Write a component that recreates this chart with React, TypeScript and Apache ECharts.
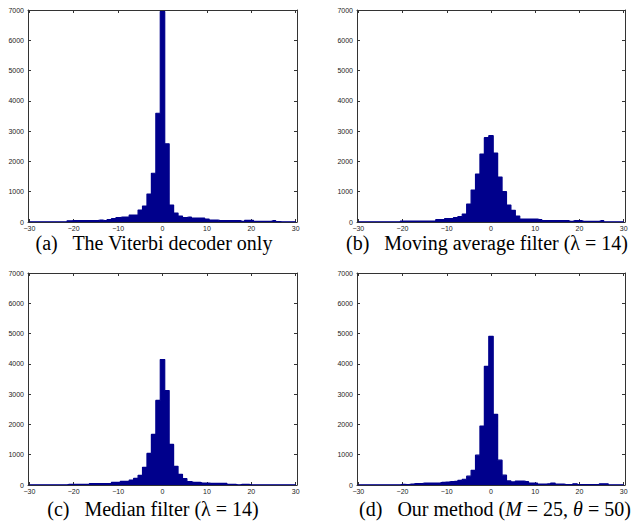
import React, { useEffect, useRef } from "react";
import * as echarts from "echarts";

const binCenters = [
  -30, -29, -28, -27, -26, -25, -24, -23, -22, -21, -20, -19, -18, -17, -16, -15,
  -14, -13, -12, -11, -10, -9, -8, -7, -6, -5, -4, -3, -2, -1, 0, 1, 2, 3, 4, 5,
  6, 7, 8, 9, 10, 11, 12, 13, 14, 15, 16, 17, 18, 19, 20, 21, 22, 23, 24, 25, 26,
  27, 28, 29, 30,
];

const viterbiCounts = [
  8, 8, 8, 8, 8, 8, 8, 8, 8, 40, 44, 44, 44, 44, 44, 44,
  66, 44, 77, 110, 143, 165, 165, 231, 231, 396, 528, 924, 1610, 3590,
  6950,
  2580, 561, 297, 198, 143, 165, 132, 132, 132, 99,
  66, 66, 44, 44, 44, 44, 44, 22, 55, 55,
  22, 22, 22, 22, 44, 10, 8, 8, 8, 8,
];

const movingAvgCounts = [
  8, 8, 8, 8, 8, 8, 8, 8, 8, 8, 33, 33, 33, 33, 33, 33, 33, 33,
  77, 77, 110, 110, 143, 176, 264, 594, 1057, 1585, 2246, 2785,
  2850,
  2279, 1486, 1002, 561, 385, 198, 99, 99, 99, 99,
  77, 44, 44, 44, 44, 44, 44, 22, 44, 44,
  22, 22, 22, 22, 44, 8, 8, 8, 8, 8,
];

const medianCounts = [
  8, 8, 8, 8, 8, 8, 8, 8, 8, 20, 20, 20, 20, 20, 44, 44, 44, 44, 44,
  88, 88, 121, 121, 165, 220, 319, 582, 1044, 1670, 2791,
  4143,
  3121, 1341, 616, 352, 209, 110, 88, 88, 66, 66,
  55, 55, 55, 55, 22, 22, 8, 22, 22, 8,
  8, 8, 8, 8, 8, 8, 8, 8, 8, 8,
];

const oursCounts = [
  8, 8, 8, 8, 8, 8, 8, 8, 8, 8,
  20, 15, 30, 45, 45, 66, 66, 66, 66, 88, 99, 110, 120, 150, 190, 290, 485, 985, 1945, 3920,
  4910,
  2335, 820, 325, 135, 100, 132, 132, 110, 66, 66,
  33, 33, 40, 66, 30, 30, 15, 15, 40, 15,
  15, 15, 15, 15, 40, 40, 8, 8, 8, 8,
];

const xTickValues = [-30, -20, -10, 0, 10, 20, 30];

const GAP = "\u2002 ";
const panels = [
  { counts: viterbiCounts, caption: "(a)" + GAP + "The Viterbi decoder only" },
  { counts: movingAvgCounts, caption: "(b)" + GAP + "Moving average filter (λ = 14)" },
  { counts: medianCounts, caption: "(c)" + GAP + "Median filter (λ = 14)" },
  { counts: oursCounts, caption: "(d)" + GAP + "Our method ({i|M} = 25, {i|θ} = 50)" },
];

const gridBoxes = [
  { left: 28, top: 10, width: 269, height: 212 },
  { left: 357, top: 10, width: 268, height: 212 },
  { left: 28, top: 273, width: 269, height: 212 },
  { left: 357, top: 273, width: 268, height: 212 },
];

const captionPos = [
  { x: 154, y: 243 },
  { x: 487, y: 243 },
  { x: 153, y: 509 },
  { x: 495, y: 509 },
];

const BAR = "#00008C";
const AXIS = "#333333";

export default function App() {
  const ref = useRef<HTMLDivElement>(null);
  useEffect(() => {
    if (!ref.current) return;
    const chart = echarts.init(ref.current, null, { renderer: "svg" });
    const fmt = (v: number) => (v < 0 ? "\u2212" + Math.abs(v) : String(v));
    const xAxis: any[] = [];
    const yAxis: any[] = [];
    const series: any[] = [];
    panels.forEach((p, i) => {
      const base = {
        type: "value",
        gridIndex: i,
        min: -30.3,
        max: 30.3,
        splitLine: { show: false },
        axisLine: { show: true, onZero: false, lineStyle: { color: AXIS, width: 1 } },
      };
      xAxis.push({
        ...base,
        position: "bottom",
        axisTick: { show: true, inside: true, length: 3, customValues: xTickValues, lineStyle: { color: AXIS } },
        axisLabel: {
          show: true,
          customValues: xTickValues,
          fontSize: 7,
          color: "#222",
          margin: 3,
          fontFamily: "Arial, 'Liberation Sans', sans-serif",
          formatter: fmt,
        },
      });
      xAxis.push({
        ...base,
        position: "top",
        axisTick: { show: true, inside: true, length: 3, customValues: xTickValues, lineStyle: { color: AXIS } },
        axisLabel: { show: false },
      });
      const ybase = {
        type: "value",
        gridIndex: i,
        min: 0,
        max: 7000,
        interval: 1000,
        splitLine: { show: false },
        axisLine: { show: true, onZero: false, lineStyle: { color: AXIS, width: 1 } },
        axisTick: { show: true, inside: true, length: 3, lineStyle: { color: AXIS } },
      };
      yAxis.push({
        ...ybase,
        position: "left",
        axisLabel: {
          show: true,
          fontSize: 7,
          color: "#222",
          margin: 4,
          fontFamily: "Arial, 'Liberation Sans', sans-serif",
          formatter: (v: number) => String(v),
        },
      });
      yAxis.push({ ...ybase, position: "right", axisLabel: { show: false } });
      series.push({
        type: "line",
        xAxisIndex: 2 * i,
        yAxisIndex: 2 * i,
        step: "middle",
        symbol: "none",
        clip: true,
        z: 3,
        data: binCenters.map((c, j) => [c, p.counts[j]]),
        lineStyle: { color: BAR, width: 1.2 },
        areaStyle: { color: BAR, opacity: 1, origin: "start" },
      });
    });
    chart.setOption({
      animation: false,
      backgroundColor: "#ffffff",
      grid: gridBoxes.map((g) => ({ ...g, containLabel: false })),
      xAxis,
      yAxis,
      series,
      graphic: panels.map((p, i) => ({
        type: "text",
        x: captionPos[i].x,
        y: captionPos[i].y,
        style: {
          text: p.caption,
          fontFamily: "'Liberation Serif', 'Times New Roman', serif",
          fontSize: 20,
          fill: "#000",
          align: "center",
          verticalAlign: "middle",
          rich: {
            i: {
              fontStyle: "italic",
              fontFamily: "'Liberation Serif', 'Times New Roman', serif",
              fontSize: 20,
              fill: "#000",
            },
          },
        },
      })),
    });
    return () => chart.dispose();
  }, []);
  return (
    <div
      ref={ref}
      style={{ position: "absolute", left: 0, top: 0, width: 636, height: 523, background: "#fff" }}
    />
  );
}
